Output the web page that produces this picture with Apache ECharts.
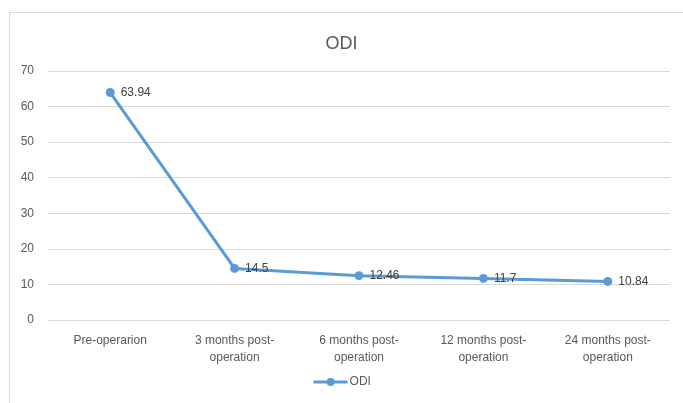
<!DOCTYPE html>
<html>
<head>
<meta charset="utf-8">
<script src="https://cdn.jsdelivr.net/npm/echarts@6/dist/echarts.min.js"></script>
<style>
  html, body { margin: 0; padding: 0; background: #fff; }
  #chart { width: 683px; height: 403px; }
</style>
</head>
<body>
<div id="chart"></div>
<script>
// data
const categories = [
  'Pre-operarion',
  '3 months post-\noperation',
  '6 months post-\noperation',
  '12 months post-\noperation',
  '24 months post-\noperation'
]
const odiValues = [63.94, 14.5, 12.46, 11.7, 10.84]
const yTicks = { min: 0, max: 70, interval: 10 }

const chart = echarts.init(document.getElementById('chart'))
const font = 'Liberation Sans, Arial, sans-serif'

chart.setOption({
  animation: false,
  textStyle: { fontFamily: font },
  graphic: [
    {
      type: 'rect',
      shape: { x: 9.5, y: 12.5, width: 700, height: 420 },
      style: { fill: 'none', stroke: '#d9d9d9', lineWidth: 1 },
      z: -1
    }
  ],
  title: {
    text: 'ODI',
    left: 'center',
    top: 30,
    textStyle: { fontFamily: font, fontSize: 18, fontWeight: 'normal', color: '#595959' }
  },
  legend: {
    bottom: 10,
    left: 'center',
    data: ['ODI'],
    itemWidth: 34,
    itemHeight: 10,
    itemGap: 4,
    lineStyle: { width: 3 },
    textStyle: { fontFamily: font, fontSize: 12, color: '#595959', padding: [0, 0, 0, -3] }
  },
  grid: {
    left: 48,
    right: 13,
    top: 71,
    bottom: 83,
    containLabel: false
  },
  xAxis: {
    type: 'category',
    data: categories,
    boundaryGap: true,
    axisLine: { show: false },
    axisTick: { show: false },
    axisLabel: {
      interval: 0,
      color: '#595959',
      fontSize: 12,
      lineHeight: 17,
      margin: 12
    }
  },
  yAxis: {
    type: 'value',
    min: yTicks.min,
    max: yTicks.max,
    interval: yTicks.interval,
    axisLine: { show: false },
    axisTick: { show: false },
    axisLabel: { color: '#595959', fontSize: 12, margin: 14 },
    splitLine: { lineStyle: { color: '#d9d9d9', width: 1 } }
  },
  series: [
    {
      name: 'ODI',
      type: 'line',
      data: odiValues,
      symbol: 'circle',
      symbolSize: 9,
      color: '#5b9bd5',
      lineStyle: { width: 3, color: '#5b9bd5' },
      label: {
        show: true,
        position: 'right',
        distance: 6,
        color: '#404040',
        fontSize: 12
      }
    }
  ]
})
</script>
</body>
</html>
